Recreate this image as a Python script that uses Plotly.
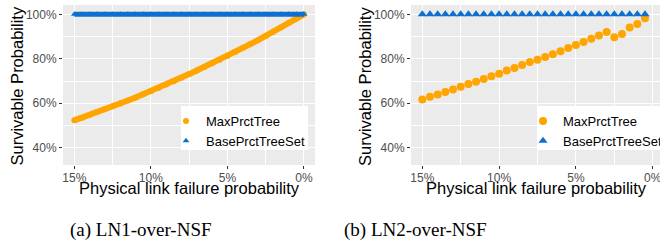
import plotly.graph_objects as go

# ---- data ----
fail_a = [15.0, 14.5, 14.0, 13.5, 13.0, 12.5, 12.0, 11.5, 11.0, 10.5, 10.0,
          9.5, 9.0, 8.5, 8.0, 7.5, 7.0, 6.5, 6.0, 5.5, 5.0,
          4.5, 4.0, 3.5, 3.0, 2.5, 2.0, 1.5, 1.0, 0.5, 0.0]
max_a = [52.3, 53.5, 54.7, 56.0, 57.3, 58.6, 59.9, 61.2, 62.6, 64.0, 65.4,
         66.9, 68.4, 69.9, 71.5, 73.1, 74.7, 76.3, 78.0, 79.6, 81.3,
         83.0, 84.8, 86.6, 88.4, 90.3, 92.2, 94.1, 96.1, 98.0, 100.0]
base_a = [100.0, 100.0, 100.0, 100.0, 100.0, 100.0, 100.0, 100.0, 100.0, 100.0, 100.0,
          100.0, 100.0, 100.0, 100.0, 100.0, 100.0, 100.0, 100.0, 100.0, 100.0,
          100.0, 100.0, 100.0, 100.0, 100.0, 100.0, 100.0, 100.0, 100.0, 100.0]

fail_b = [15.0, 14.5, 14.0, 13.5, 13.0, 12.5, 12.0, 11.5, 11.0, 10.5,
          10.0, 9.5, 9.0, 8.5, 8.0, 7.5, 7.0, 6.5, 6.0, 5.5,
          5.0, 4.5, 4.0, 3.5, 3.0, 2.5, 2.0, 1.5, 1.0, 0.5]
max_b = [61.7, 62.9, 63.9, 65.0, 66.2, 67.4, 68.6, 69.7, 70.9, 72.1,
         73.3, 74.7, 75.9, 77.2, 78.6, 79.6, 80.8, 82.0, 83.4, 84.9,
         86.2, 87.6, 89.0, 90.5, 92.0, 89.7, 91.1, 94.1, 95.7, 98.2]
base_b = [100.0, 100.0, 100.0, 100.0, 100.0, 100.0, 100.0, 100.0, 100.0, 100.0,
          100.0, 100.0, 100.0, 100.0, 100.0, 100.0, 100.0, 100.0, 100.0, 100.0,
          100.0, 100.0, 100.0, 100.0, 100.0, 100.0, 100.0, 100.0, 100.0, 100.0]

x_tickvals = [15, 10, 5, 0]
x_ticktext = ["15%", "10%", "5%", "0%"]
y_tickvals = [40, 60, 80, 100]
y_ticktext = ["40%", "60%", "80%", "100%"]
series_names = ["MaxPrctTree", "BasePrctTreeSet"]
captions = ["(a) LN1-over-NSF", "(b) LN2-over-NSF"]

ORANGE = "#FFA500"
BLUE = "#0E6FCF"
W, H = 660, 247
SANS = "Liberation Sans, Arial, sans-serif"

fig = go.Figure()

# left panel: dense point trails drawn as thick lines + markers
fig.add_trace(go.Scatter(x=fail_a, y=max_a, mode="lines", line=dict(color=ORANGE, width=6),
                         showlegend=False, xaxis="x", yaxis="y", hoverinfo="skip"))
fig.add_trace(go.Scatter(x=fail_a, y=max_a, mode="markers", name=series_names[0],
                         marker=dict(color=ORANGE, size=6, symbol="circle"),
                         xaxis="x", yaxis="y", legend="legend"))
fig.add_trace(go.Scatter(x=fail_a, y=base_a, mode="lines", line=dict(color=BLUE, width=5),
                         showlegend=False, xaxis="x", yaxis="y", hoverinfo="skip"))
fig.add_trace(go.Scatter(x=fail_a, y=base_a, mode="markers", name=series_names[1],
                         marker=dict(color=BLUE, size=6, symbol="triangle-up"),
                         xaxis="x", yaxis="y", legend="legend"))

# right panel
fig.add_trace(go.Scatter(x=fail_b, y=max_b, mode="markers", name=series_names[0],
                         marker=dict(color=ORANGE, size=8, symbol="circle"),
                         xaxis="x2", yaxis="y2", legend="legend2"))
fig.add_trace(go.Scatter(x=fail_b, y=base_b, mode="markers", name=series_names[1],
                         marker=dict(color=BLUE, size=8, symbol="triangle-up"),
                         xaxis="x2", yaxis="y2", legend="legend2"))


def xax(domain, rng):
    return dict(domain=domain, range=rng, tickvals=x_tickvals, ticktext=x_ticktext,
                showgrid=True, gridcolor="white", gridwidth=1.2, zeroline=False,
                ticks="outside", ticklen=3, tickwidth=1, tickcolor="#333333",
                tickfont=dict(family=SANS, size=12, color="#4D4D4D"),
                ticklabeloverflow="allow", ticklabelstandoff=-1,
                minor=dict(tickvals=[12.5, 7.5, 2.5], showgrid=True, gridcolor="white",
                           gridwidth=0.6, ticks=""),
                showline=False, fixedrange=True)


def yax(domain, anchor):
    return dict(domain=domain, range=[32.2, 104.2], tickvals=y_tickvals, ticktext=y_ticktext,
                anchor=anchor, showgrid=True, gridcolor="white", gridwidth=1.2, zeroline=False,
                ticks="outside", ticklen=3, tickwidth=1, tickcolor="#333333",
                tickfont=dict(family=SANS, size=12, color="#4D4D4D"),
                ticklabeloverflow="allow",
                minor=dict(tickvals=[50, 70, 90], showgrid=True, gridcolor="white",
                           gridwidth=0.6, ticks=""),
                showline=False, fixedrange=True)


ydom = [82 / H, 242 / H]
legend_style = dict(xanchor="left", yanchor="top", bgcolor="rgba(0,0,0,0)",
                    font=dict(family=SANS, size=13, color="black"),
                    itemwidth=30, tracegroupgap=0, borderwidth=0)
fig.update_layout(
    width=W, height=H,
    margin=dict(l=0, r=0, t=0, b=0, autoexpand=False),
    paper_bgcolor="white",
    plot_bgcolor="#EBEBEB",
    xaxis=xax([63 / W, 315 / W], [15.74, -0.72]),
    yaxis=yax(ydom, "x"),
    xaxis2=xax([411 / W, 1.0], [15.736, -0.475]),
    yaxis2=yax(ydom, "x2"),
    legend=dict(x=166 / W, y=1 - 106 / H, **legend_style),
    legend2=dict(x=523 / W, y=1 - 106 / H, **legend_style),
    font=dict(family=SANS),
    showlegend=True,
    shapes=[
        dict(type="rect", xref="paper", yref="paper", x0=181 / W, x1=308 / W,
             y0=1 - 150 / H, y1=1 - 106 / H, fillcolor="white", line=dict(width=0), layer="above"),
        dict(type="rect", xref="paper", yref="paper", x0=538 / W, x1=1.0,
             y0=1 - 150 / H, y1=1 - 106 / H, fillcolor="white", line=dict(width=0), layer="above"),
    ],
)

ann = []
for cx in [16.5, 365]:
    ann.append(dict(text="Survivable Probability", x=cx / W, y=1 - 86 / H, xref="paper", yref="paper",
                    textangle=-90, showarrow=False, xanchor="center", yanchor="middle",
                    font=dict(family=SANS, size=16.5, color="black")))
for cx in [189, 536]:
    ann.append(dict(text="Physical link failure probability", x=cx / W, y=1 - 188 / H,
                    xref="paper", yref="paper", showarrow=False, xanchor="center", yanchor="middle",
                    font=dict(family=SANS, size=16.5, color="black")))
for cx, cap in zip([141, 415], captions):
    ann.append(dict(text=cap, x=cx / W, y=1 - 230 / H, xref="paper", yref="paper",
                    showarrow=False, xanchor="center", yanchor="middle",
                    font=dict(family="Liberation Serif, Times New Roman, serif", size=19, color="black")))
fig.update_layout(annotations=ann)

fig.write_html("out.html", config={"displayModeBar": False},
               post_script="document.body.style.margin='0';")
